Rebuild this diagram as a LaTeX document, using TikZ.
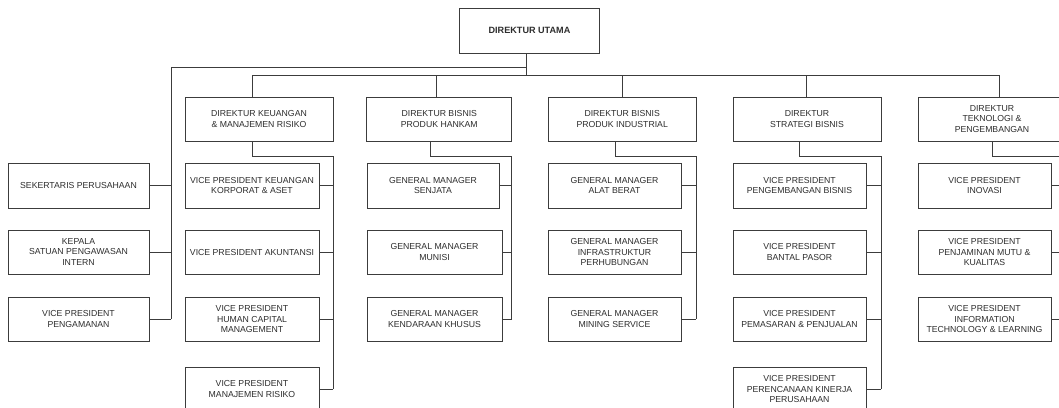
\documentclass[tikz,border=0pt]{standalone}
\usepackage{fontspec}
\setmainfont{Liberation Sans}
\definecolor{ln}{HTML}{3C3C3C}
\definecolor{tx}{HTML}{2E2E2E}
\begin{document}
\begin{tikzpicture}[x=1pt,y=-1pt,
  box/.style={draw=ln, line width=0.9pt, fill=white, align=center, inner sep=0pt, text=tx,
    font=\fontsize{8.7}{10.9}\selectfont},
  conn/.style={draw=ln, line width=0.9pt},
]
\useasboundingbox (0,0) rectangle (1059,407);
\clip (0,0) rectangle (1059,407);
\fill[white] (0,0) rectangle (1059,407);

% top
\node[box, minimum width=140pt, minimum height=45pt, font=\fontsize{9.1}{11}\selectfont\bfseries] (top) at (529.5,30.5) {DIREKTUR UTAMA};

% directors
\node[box, minimum width=148pt, minimum height=44pt] (d1) at (259,119) {DIREKTUR KEUANGAN\\\& MANAJEMEN RISIKO};
\node[box, minimum width=145pt, minimum height=44pt] (d2) at (439.3,119) {DIREKTUR BISNIS\\PRODUK HANKAM};
\node[box, minimum width=148pt, minimum height=44pt] (d3) at (622.2,119) {DIREKTUR BISNIS\\PRODUK INDUSTRIAL};
\node[box, minimum width=148pt, minimum height=44pt] (d4) at (807,119) {DIREKTUR\\STRATEGI BISNIS};
\node[box, minimum width=148pt, minimum height=44pt] (d5) at (992,119) {DIREKTUR\\TEKNOLOGI \&\\PENGEMBANGAN};

% left column
\node[box, minimum width=141pt, minimum height=45pt] (l1) at (78.5,185.5) {SEKERTARIS PERUSAHAAN};
\node[box, minimum width=141pt, minimum height=44pt] (l2) at (78.5,252) {KEPALA\\SATUAN PENGAWASAN\\INTERN};
\node[box, minimum width=141pt, minimum height=44pt] (l3) at (78.5,319) {VICE PRESIDENT\\PENGAMANAN};

% keuangan column
\node[box, minimum width=134pt, minimum height=45pt] (k1) at (252,185.5) {VICE PRESIDENT KEUANGAN\\KORPORAT \& ASET};
\node[box, minimum width=134pt, minimum height=44pt] (k2) at (252,252) {VICE PRESIDENT AKUNTANSI};
\node[box, minimum width=134pt, minimum height=44pt] (k3) at (252,319) {VICE PRESIDENT\\HUMAN CAPITAL\\MANAGEMENT};
\node[box, minimum width=134pt, minimum height=44pt] (k4) at (252,389) {VICE PRESIDENT\\MANAJEMEN RISIKO};

% hankam column
\node[box, minimum width=132pt, minimum height=45pt] (h1) at (433,185.5) {GENERAL MANAGER\\SENJATA};
\node[box, minimum width=135pt, minimum height=44pt] (h2) at (434.5,252) {GENERAL MANAGER\\MUNISI};
\node[box, minimum width=135pt, minimum height=44pt] (h3) at (434.5,319) {GENERAL MANAGER\\KENDARAAN KHUSUS};

% industrial column
\node[box, minimum width=133pt, minimum height=45pt] (i1) at (614.5,185.5) {GENERAL MANAGER\\ALAT BERAT};
\node[box, minimum width=133pt, minimum height=44pt] (i2) at (614.5,252) {GENERAL MANAGER\\INFRASTRUKTUR\\PERHUBUNGAN};
\node[box, minimum width=133pt, minimum height=44pt] (i3) at (614.5,319) {GENERAL MANAGER\\MINING SERVICE};

% strategi column
\node[box, minimum width=133pt, minimum height=45pt] (s1) at (799.5,185.5) {VICE PRESIDENT\\PENGEMBANGAN BISNIS};
\node[box, minimum width=133pt, minimum height=44pt] (s2) at (799.5,252) {VICE PRESIDENT\\BANTAL PASOR};
\node[box, minimum width=133pt, minimum height=44pt] (s3) at (799.5,319) {VICE PRESIDENT\\PEMASARAN \& PENJUALAN};
\node[box, minimum width=133pt, minimum height=44pt] (s4) at (799.5,389) {VICE PRESIDENT\\PERENCANAAN KINERJA\\PERUSAHAAN};

% teknologi column
\node[box, minimum width=133pt, minimum height=45pt] (t1) at (984.5,185.5) {VICE PRESIDENT\\INOVASI};
\node[box, minimum width=133pt, minimum height=44pt] (t2) at (984.5,252) {VICE PRESIDENT\\PENJAMINAN MUTU \&\\KUALITAS};
\node[box, minimum width=133pt, minimum height=44pt] (t3) at (984.5,319) {VICE PRESIDENT\\INFORMATION\\TECHNOLOGY \& LEARNING};

% junction coordinates
\coordinate (hub) at (526,75);
\coordinate (hubL) at (526,67);
\coordinate (barL) at (252.7,75);
\coordinate (barR) at (999,75);
\coordinate (leftV) at (171,67);
\coordinate (j2) at (436.7,75);
\coordinate (j3) at (622.3,75);
\coordinate (j4) at (806.7,75);

% top to bar
\draw[conn] (top.south -| hub) -- (hub);
\draw[conn] (barL) -- (barR);
\draw[conn] (hubL) -- (leftV) -- (leftV |- l3.east);
\foreach \n in {l1,l2,l3} \draw[conn] (\n.east) -- (leftV |- \n.east);

% drops to directors
\draw[conn] (barL) -- (barL |- d1.north);
\draw[conn] (j2) -- (j2 |- d2.north);
\draw[conn] (j3) -- (j3 |- d3.north);
\draw[conn] (j4) -- (j4 |- d4.north);
\draw[conn] (barR) -- (barR |- d5.north);

% keuangan branch
\coordinate (v1) at (333,156);
\draw[conn] (d1.south -| barL) -- (barL |- v1) -- (v1) -- (v1 |- k4.east);
\foreach \n in {k1,k2,k3,k4} \draw[conn] (\n.east) -- (v1 |- \n.east);

% hankam branch
\coordinate (v2) at (511.7,156);
\coordinate (c2) at (430,156);
\draw[conn] (d2.south -| c2) -- (c2) -- (v2) -- (v2 |- h3.east);
\foreach \n in {h1,h2,h3} \draw[conn] (\n.east) -- (v2 |- \n.east);

% industrial branch
\coordinate (v3) at (696,156);
\coordinate (c3) at (615,156);
\draw[conn] (d3.south -| c3) -- (c3) -- (v3) -- (v3 |- i3.east);
\foreach \n in {i1,i2,i3} \draw[conn] (\n.east) -- (v3 |- \n.east);

% strategi branch
\coordinate (v4) at (881,156);
\coordinate (c4) at (799,156);
\draw[conn] (d4.south -| c4) -- (c4) -- (v4) -- (v4 |- s4.east);
\foreach \n in {s1,s2,s3,s4} \draw[conn] (\n.east) -- (v4 |- \n.east);

% teknologi branch
\coordinate (v5) at (1066,156);
\coordinate (c5) at (992,156);
\draw[conn] (d5.south -| c5) -- (c5) -- (v5) -- (v5 |- t3.east);
\foreach \n in {t1,t2,t3} \draw[conn] (\n.east) -- (v5 |- \n.east);
\end{tikzpicture}
\end{document}
